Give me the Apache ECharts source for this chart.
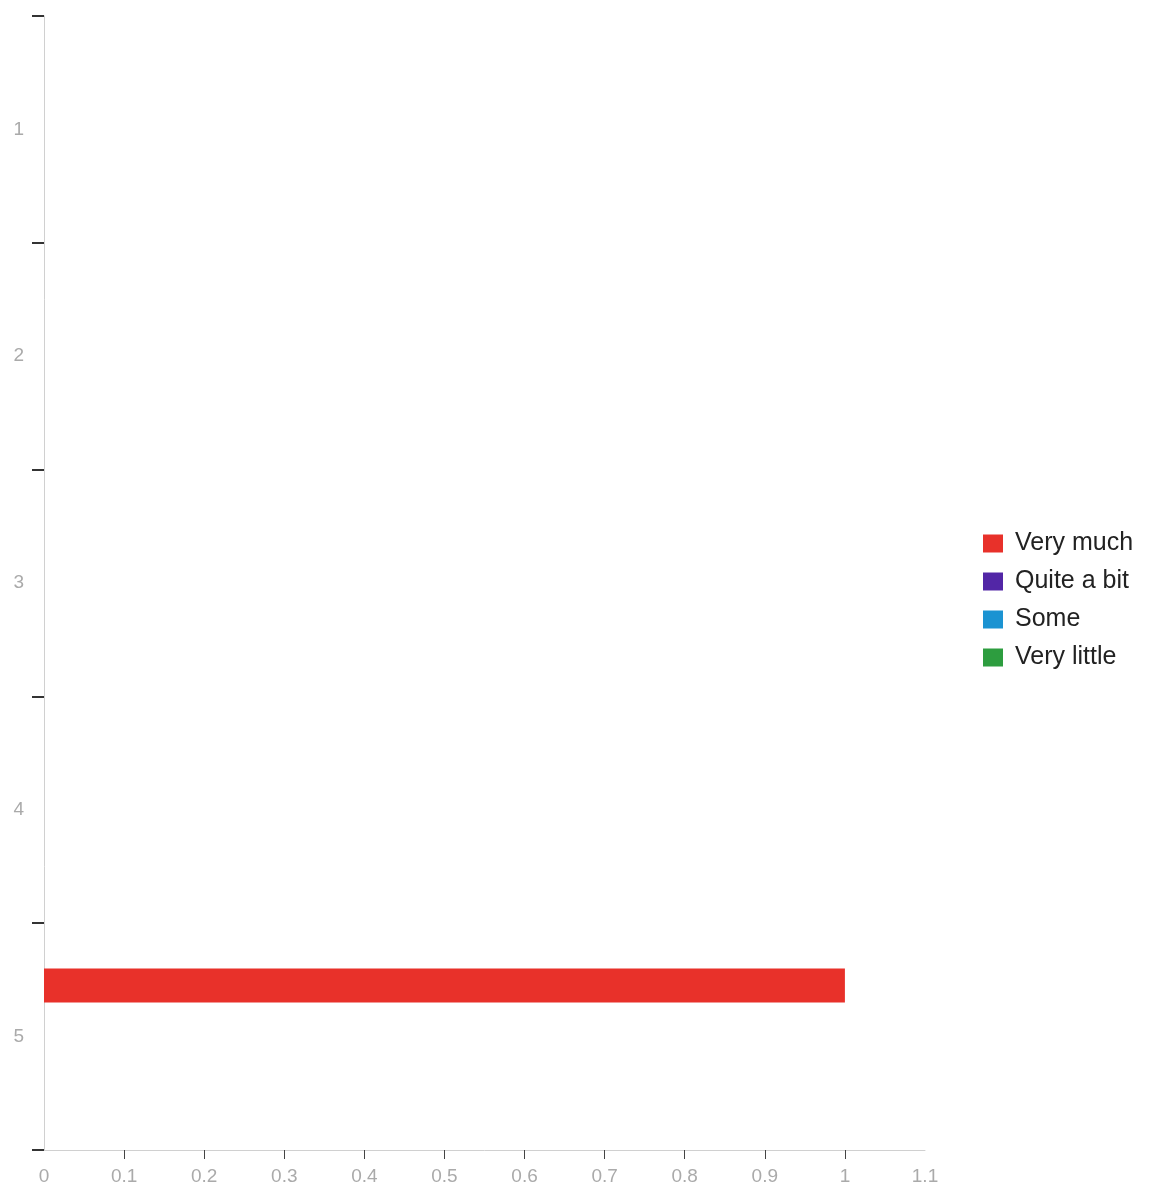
<!DOCTYPE html>
<html>
<head>
<meta charset="utf-8">
<script src="https://cdn.jsdelivr.net/npm/echarts@6/dist/echarts.min.js"></script>
<style>html,body{margin:0;padding:0;background:#fff;}#c{width:1155px;height:1199px;}</style>
</head>
<body>
<div id="c"></div>
<script>
var categories = ['1', '2', '3', '4', '5'];
var seriesNames = ['Very much', 'Quite a bit', 'Some', 'Very little'];
var veryMuch = [0, 0, 0, 0, 1];
var quiteABit = [0, 0, 0, 0, 0];
var some = [0, 0, 0, 0, 0];
var veryLittle = [0, 0, 0, 0, 0];
var xTickValues = [0.1, 0.2, 0.3, 0.4, 0.5, 0.6, 0.7, 0.8, 0.9, 1];
var colors = ['#e8312a', '#5226a6', '#1b93d2', '#2d9d3f'];

var values = [veryMuch, quiteABit, some, veryLittle];
var chart = echarts.init(document.getElementById('c'));
chart.setOption({
  animation: false,
  color: colors,
  grid: { left: 44, top: 16, right: 230, bottom: 49, containLabel: false },
  legend: {
    orient: 'vertical',
    left: 978,
    top: 526,
    itemWidth: 20,
    itemHeight: 18,
    itemGap: 13,
    icon: 'rect',
    textStyle: { fontSize: 25, color: '#222', fontFamily: 'Liberation Sans', padding: [0, 0, 0, 7] },
    data: seriesNames
  },
  xAxis: {
    type: 'value',
    min: 0,
    max: 1.1,
    interval: 0.1,
    splitLine: { show: false },
    axisLine: { show: true, lineStyle: { color: '#d0d0d0', width: 1 } },
    axisTick: { show: true, customValues: xTickValues, length: 9, lineStyle: { color: '#444' } },
    axisLabel: { color: '#aaa', fontSize: 19, fontFamily: 'Liberation Sans', margin: 17 }
  },
  yAxis: {
    type: 'category',
    inverse: true,
    data: categories,
    axisLine: { show: true, lineStyle: { color: '#d0d0d0', width: 1 } },
    axisTick: { show: true, length: 12, lineStyle: { color: '#333', width: 2 } },
    axisLabel: { color: '#aaa', fontSize: 19, fontFamily: 'Liberation Sans', margin: 20 },
    splitLine: { show: false }
  },
  series: seriesNames.map(function (n, i) {
    return {
      name: n,
      type: 'bar',
      data: values[i],
      barGap: '0%',
      barCategoryGap: '40%'
    };
  })
});
</script>
</body>
</html>
